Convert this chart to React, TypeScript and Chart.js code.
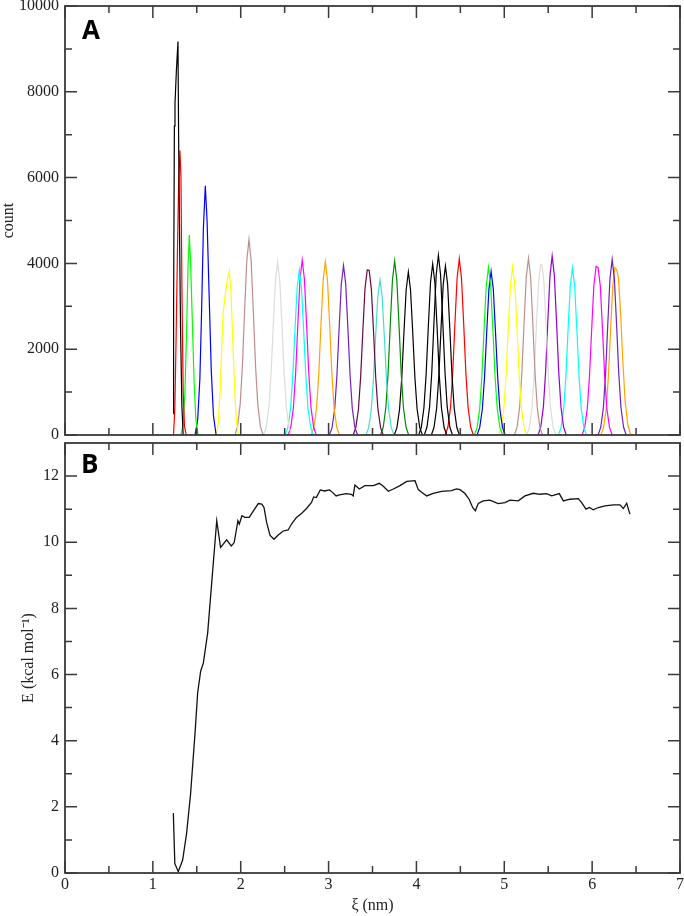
import React, { useEffect, useRef } from 'react';
import { Chart, registerables } from 'chart.js';
Chart.register(...registerables);

// ---------- Panel A: umbrella-window histograms (xi nm, count) ----------
const hist01 = [[1.232, 500], [1.236, 3000], [1.245, 7200], [1.252, 7740], [1.268, 8500], [1.286, 9170], [1.293, 7000], [1.30, 5480], [1.315, 2500], [1.33, 700], [1.345, 0]];
const hist02 = [[1.235, 0], [1.25, 600], [1.265, 2300], [1.28, 4300], [1.295, 6000], [1.308, 6630], [1.32, 6000], [1.332, 3200], [1.345, 1000], [1.36, 200], [1.38, 0]];
const hist03 = [[1.32, 0], [1.345, 250], [1.365, 1000], [1.385, 2500], [1.40, 3900], [1.415, 4660], [1.43, 4000], [1.45, 2600], [1.47, 1200], [1.49, 350], [1.515, 0]];
const hist04 = [[1.48, 0], [1.51, 350], [1.535, 1300], [1.555, 2900], [1.575, 4800], [1.597, 5810], [1.617, 5000], [1.64, 3300], [1.665, 1500], [1.69, 450], [1.72, 0]];
const hist05 = [[1.72, 0], [1.745, 300], [1.765, 1000], [1.785, 2100], [1.80, 2840], [1.82, 3200], [1.845, 3600], [1.87, 3830], [1.89, 3300], [1.91, 2200], [1.93, 1100], [1.95, 350], [1.975, 0]];
const hist06 = [[1.934, 0], [1.964, 200], [1.994, 720], [2.019, 1600], [2.044, 2870], [2.069, 4060], [2.094, 4560], [2.119, 4060], [2.144, 2870], [2.169, 1600], [2.194, 720], [2.224, 200], [2.254, 0]];
const hist07 = [[2.26, 0], [2.29, 180], [2.32, 630], [2.345, 1410], [2.37, 2540], [2.395, 3580], [2.42, 4025], [2.445, 3580], [2.47, 2540], [2.495, 1410], [2.52, 630], [2.55, 180], [2.58, 0]];
const hist08 = [[2.507, 0], [2.537, 170], [2.567, 600], [2.592, 1350], [2.617, 2420], [2.642, 3420], [2.667, 3846], [2.692, 3420], [2.717, 2420], [2.742, 1350], [2.767, 600], [2.797, 170], [2.827, 0]];
const hist09 = [[2.54, 0], [2.57, 180], [2.60, 640], [2.625, 1430], [2.65, 2570], [2.675, 3630], [2.70, 4080], [2.725, 3630], [2.75, 2570], [2.775, 1430], [2.80, 640], [2.83, 180], [2.86, 0]];
const hist10 = [[2.803, 0], [2.833, 180], [2.863, 630], [2.888, 1410], [2.913, 2550], [2.938, 3600], [2.963, 4040], [2.988, 3600], [3.013, 2550], [3.038, 1410], [3.063, 630], [3.093, 180], [3.123, 0]];
const hist11 = [[3.01, 0], [3.04, 170], [3.07, 620], [3.095, 1380], [3.12, 2490], [3.145, 3520], [3.17, 3950], [3.195, 3520], [3.22, 2490], [3.245, 1380], [3.27, 620], [3.30, 170], [3.33, 0]];
const hist12 = [[3.28, 0], [3.31, 170], [3.34, 600], [3.365, 1350], [3.39, 2420], [3.415, 3420], [3.44, 3846], [3.462, 3840], [3.487, 3400], [3.512, 2400], [3.537, 1330], [3.562, 600], [3.592, 170], [3.622, 0]];
const hist13 = [[3.425, 0], [3.455, 160], [3.485, 570], [3.51, 1270], [3.535, 2280], [3.56, 3220], [3.585, 3613], [3.61, 3220], [3.635, 2280], [3.66, 1270], [3.685, 570], [3.715, 160], [3.745, 0]];
const hist14 = [[3.592, 0], [3.622, 180], [3.652, 640], [3.677, 1420], [3.702, 2560], [3.727, 3610], [3.752, 4056], [3.777, 3610], [3.802, 2560], [3.827, 1420], [3.852, 640], [3.882, 180], [3.912, 0]];
const hist15 = [[3.748, 0], [3.778, 170], [3.808, 600], [3.833, 1330], [3.858, 2390], [3.883, 3380], [3.908, 3800], [3.933, 3380], [3.958, 2390], [3.983, 1330], [4.008, 600], [4.038, 170], [4.068, 0]];
const hist16 = [[4.025, 0], [4.055, 175], [4.085, 630], [4.11, 1400], [4.135, 2510], [4.16, 3550], [4.185, 3986], [4.21, 3550], [4.235, 2510], [4.26, 1400], [4.285, 630], [4.315, 175], [4.345, 0]];
const hist17 = [[4.09, 0], [4.12, 185], [4.15, 660], [4.175, 1470], [4.20, 2640], [4.225, 3730], [4.25, 4190], [4.275, 3730], [4.30, 2640], [4.325, 1470], [4.35, 660], [4.38, 185], [4.41, 0]];
const hist18 = [[4.17, 0], [4.20, 175], [4.23, 620], [4.255, 1380], [4.28, 2480], [4.305, 3510], [4.33, 3940], [4.355, 3510], [4.38, 2480], [4.405, 1380], [4.43, 620], [4.46, 175], [4.49, 0]];
const hist19 = [[4.328, 0], [4.358, 180], [4.388, 645], [4.413, 1440], [4.438, 2590], [4.463, 3660], [4.488, 4110], [4.513, 3660], [4.538, 2590], [4.563, 1440], [4.588, 645], [4.618, 180], [4.648, 0]];
const hist20 = [[4.66, 0], [4.69, 170], [4.72, 610], [4.745, 1370], [4.77, 2460], [4.795, 3480], [4.82, 3908], [4.845, 3480], [4.87, 2460], [4.895, 1370], [4.92, 610], [4.95, 170], [4.98, 0]];
const hist21 = [[4.69, 0], [4.72, 170], [4.75, 600], [4.775, 1340], [4.80, 2400], [4.825, 3400], [4.85, 3815], [4.875, 3400], [4.90, 2400], [4.925, 1340], [4.95, 600], [4.98, 170], [5.01, 0]];
const hist22 = [[4.935, 0], [4.965, 170], [4.995, 620], [5.02, 1370], [5.045, 2470], [5.07, 3490], [5.095, 3923], [5.12, 3490], [5.145, 2470], [5.17, 1370], [5.195, 620], [5.225, 170], [5.255, 0]];
const hist23 = [[5.115, 0], [5.145, 180], [5.175, 650], [5.20, 1440], [5.225, 2600], [5.25, 3670], [5.275, 4120], [5.30, 3670], [5.325, 2600], [5.35, 1440], [5.375, 650], [5.405, 180], [5.435, 0]];
const hist24 = [[5.255, 0], [5.285, 175], [5.315, 620], [5.34, 1390], [5.365, 2510], [5.39, 3540], [5.412, 3977], [5.43, 3960], [5.452, 3540], [5.477, 2510], [5.502, 1390], [5.527, 620], [5.557, 175], [5.587, 0]];
const hist25 = [[5.385, 0], [5.415, 185], [5.445, 655], [5.47, 1460], [5.495, 2630], [5.52, 3710], [5.545, 4172], [5.57, 3710], [5.595, 2630], [5.62, 1460], [5.645, 655], [5.675, 185], [5.705, 0]];
const hist26 = [[5.616, 0], [5.646, 170], [5.676, 610], [5.701, 1360], [5.726, 2460], [5.751, 3470], [5.776, 3897], [5.801, 3470], [5.826, 2460], [5.851, 1360], [5.876, 610], [5.906, 170], [5.936, 0]];
const hist27 = [[5.885, 0], [5.915, 175], [5.945, 615], [5.97, 1375], [5.995, 2475], [6.02, 3500], [6.045, 3930], [6.068, 3900], [6.093, 3470], [6.118, 2460], [6.143, 1360], [6.168, 610], [6.198, 170], [6.228, 0]];
const hist28 = [[6.068, 0], [6.098, 180], [6.128, 640], [6.153, 1430], [6.178, 2580], [6.203, 3645], [6.228, 4095], [6.253, 3645], [6.278, 2580], [6.303, 1430], [6.328, 640], [6.358, 180], [6.388, 0]];
const hist29 = [[6.10, 0], [6.13, 170], [6.16, 610], [6.185, 1360], [6.21, 2450], [6.235, 3470], [6.258, 3900], [6.28, 3850], [6.30, 3650], [6.325, 2800], [6.35, 1700], [6.375, 800], [6.405, 250], [6.44, 0]];

const histSeries = [hist01, hist02, hist03, hist04, hist05, hist06, hist07, hist08, hist09, hist10, hist11, hist12, hist13, hist14, hist15, hist16, hist17, hist18, hist19, hist20, hist21, hist22, hist23, hist24, hist25, hist26, hist27, hist28, hist29];
const histColors = ['#000000', '#ff0000', '#00ff00', '#0000ff', '#ffff00', '#bc8f8f', '#dcdcdc', '#00ffff', '#ff00ff', '#ffa500', '#7221bc', '#670748', '#40e0d0', '#008b00', '#000000', '#000000', '#000000', '#000000', '#ff0000', '#00ff00', '#0000ff', '#ffff00', '#bc8f8f', '#dcdcdc', '#9400d3', '#00ffff', '#ff00ff', '#7221bc', '#ffa500'];

// ---------- Panel B: PMF ----------
const pmfXi = [1.233, 1.25, 1.289, 1.339, 1.384, 1.43, 1.48, 1.51, 1.544, 1.575, 1.624, 1.67, 1.727, 1.771, 1.84, 1.893, 1.926, 1.968, 1.984, 2.014, 2.048, 2.097, 2.15, 2.2, 2.24, 2.265, 2.295, 2.333, 2.378, 2.427, 2.484, 2.54, 2.578, 2.635, 2.692, 2.749, 2.806, 2.83, 2.86, 2.906, 2.955, 3.01, 3.048, 3.086, 3.124, 3.2, 3.26, 3.28, 3.3, 3.35, 3.414, 3.51, 3.578, 3.623, 3.68, 3.737, 3.813, 3.889, 3.984, 4.021, 4.06, 4.117, 4.19, 4.287, 4.4, 4.457, 4.496, 4.55, 4.6, 4.64, 4.67, 4.704, 4.76, 4.836, 4.93, 5.008, 5.064, 5.16, 5.235, 5.33, 5.406, 5.481, 5.539, 5.626, 5.672, 5.748, 5.843, 5.88, 5.93, 5.968, 6.013, 6.07, 6.146, 6.241, 6.317, 6.355, 6.393, 6.43];
const pmfE = [1.81, 0.29, 0.04, 0.39, 1.2, 2.41, 4.23, 5.45, 6.1, 6.35, 7.26, 8.78, 10.65, 9.84, 10.07, 9.89, 9.99, 10.65, 10.55, 10.8, 10.75, 10.75, 10.97, 11.17, 11.15, 11.05, 10.6, 10.21, 10.09, 10.22, 10.34, 10.37, 10.55, 10.75, 10.87, 11.02, 11.2, 11.37, 11.35, 11.58, 11.55, 11.58, 11.5, 11.4, 11.43, 11.47, 11.45, 11.4, 11.73, 11.61, 11.71, 11.71, 11.78, 11.69, 11.54, 11.61, 11.71, 11.84, 11.86, 11.59, 11.51, 11.4, 11.48, 11.54, 11.56, 11.61, 11.59, 11.48, 11.3, 11.05, 10.95, 11.17, 11.25, 11.27, 11.17, 11.2, 11.27, 11.25, 11.4, 11.48, 11.45, 11.47, 11.4, 11.47, 11.25, 11.3, 11.32, 11.2, 11.0, 11.05, 10.98, 11.05, 11.1, 11.13, 11.13, 11.02, 11.18, 10.85];

// ---------- ticks ----------
const xMajorTicks = [0, 1, 2, 3, 4, 5, 6, 7];
const xMinorTicks = [0.5, 1.5, 2.5, 3.5, 4.5, 5.5, 6.5];
const countMajorTicks = [0, 2000, 4000, 6000, 8000, 10000];
const countMinorTicks = [1000, 3000, 5000, 7000, 9000];
const energyMajorTicks = [0, 2, 4, 6, 8, 10, 12];
const energyMinorTicks = [1, 3, 5, 7, 9, 11];

const SERIF = '"Liberation Serif", "Times New Roman", serif';
const FRAME = '#3a3a3a';

function framePlugin(yMajor: number[], yMinor: number[], letter: string, lx: number, ly: number) {
  return {
    id: 'frame' + letter,
    afterDraw(chart: any) {
      const { ctx, chartArea: a, scales } = chart;
      const xs = scales.x, ys = scales.y;
      ctx.save();
      ctx.strokeStyle = FRAME;
      ctx.lineWidth = 1.5;
      ctx.beginPath();
      const tick = (vals: number[], len: number) => {
        vals.forEach((v) => {
          const px = xs.getPixelForValue(v);
          ctx.moveTo(px, a.bottom); ctx.lineTo(px, a.bottom - len);
          ctx.moveTo(px, a.top); ctx.lineTo(px, a.top + len);
        });
      };
      const ytick = (vals: number[], len: number) => {
        vals.forEach((v) => {
          const py = ys.getPixelForValue(v);
          ctx.moveTo(a.left, py); ctx.lineTo(a.left + len, py);
          ctx.moveTo(a.right, py); ctx.lineTo(a.right - len, py);
        });
      };
      tick(xMajorTicks, 12); tick(xMinorTicks, 7);
      ytick(yMajor, 12); ytick(yMinor, 7);
      ctx.stroke();
      ctx.lineWidth = 1.8;
      ctx.strokeRect(a.left, a.top, a.right - a.left, a.bottom - a.top);
      ctx.fillStyle = '#000';
      ctx.font = 'bold 26px "Open Sans", "DejaVu Sans", sans-serif';
      ctx.textBaseline = 'alphabetic';
      ctx.textAlign = 'left';
      ctx.fillText(letter, lx, ly);
      ctx.restore();
    },
  };
}

const tickFont = { family: SERIF, size: 16 };
const plainLabel = (v: any) => String(v);

export default function App() {
  const refA = useRef<HTMLCanvasElement>(null);
  const refB = useRef<HTMLCanvasElement>(null);

  useEffect(() => {
    const chartA = new Chart(refA.current as HTMLCanvasElement, {
      type: 'line',
      data: {
        datasets: histSeries.map((s, i) => ({
          data: s.map((p) => ({ x: p[0], y: p[1] })),
          borderColor: histColors[i],
          borderWidth: 1.2,
          pointRadius: 0,
          fill: false,
          tension: 0,
        })),
      },
      options: {
        animation: false,
        responsive: true,
        maintainAspectRatio: false,
        layout: { padding: { top: 6, right: 4, bottom: 5, left: 0 } },
        plugins: { legend: { display: false }, tooltip: { enabled: false } },
        scales: {
          x: { type: 'linear', min: 0, max: 7, display: false },
          y: {
            type: 'linear', min: 0, max: 10000,
            afterBuildTicks: (s: any) => { s.ticks = countMajorTicks.map((v) => ({ value: v })); },
            afterFit: (s: any) => { s.width = 65; s.paddingTop = 0; s.paddingBottom = 0; },
            grid: { display: false, drawTicks: false },
            border: { display: false },
            ticks: { font: tickFont, color: '#222', padding: 6, autoSkip: false, callback: plainLabel },
            title: { display: true, text: 'count', font: { family: SERIF, size: 16, lineHeight: 1 }, color: '#222', padding: { top: 1, bottom: 0 } },
          },
        },
      },
      plugins: [framePlugin(countMajorTicks, countMinorTicks, 'A', 82, 39)],
    } as any);

    const chartB = new Chart(refB.current as HTMLCanvasElement, {
      type: 'line',
      data: {
        datasets: [{
          data: pmfXi.map((x, i) => ({ x, y: pmfE[i] })),
          borderColor: '#111',
          borderWidth: 1.3,
          pointRadius: 0,
          fill: false,
          tension: 0,
        }],
      },
      options: {
        animation: false,
        responsive: true,
        maintainAspectRatio: false,
        layout: { padding: { top: 3, right: 4, bottom: 0, left: 0 } },
        plugins: { legend: { display: false }, tooltip: { enabled: false } },
        scales: {
          x: {
            type: 'linear', min: 0, max: 7,
            afterBuildTicks: (s: any) => { s.ticks = xMajorTicks.map((v) => ({ value: v })); },
            afterFit: (s: any) => { s.height = 43; s.paddingLeft = 0; s.paddingRight = 0; },
            grid: { display: false, drawTicks: false },
            border: { display: false },
            ticks: { font: tickFont, color: '#222', padding: 2, autoSkip: false, maxRotation: 0, callback: plainLabel },
            title: { display: true, text: 'ξ (nm)', font: { family: SERIF, size: 16 }, color: '#222', padding: { top: 0, bottom: 1 } },
          },
          y: {
            type: 'linear', min: 0, max: 13,
            afterBuildTicks: (s: any) => { s.ticks = energyMajorTicks.map((v) => ({ value: v })); },
            afterFit: (s: any) => { s.width = 65; s.paddingTop = 0; s.paddingBottom = 0; },
            grid: { display: false, drawTicks: false },
            border: { display: false },
            ticks: { font: tickFont, color: '#222', padding: 6, autoSkip: false, callback: plainLabel },
            title: { display: true, text: 'E (kcal mol⁻¹)', font: { family: SERIF, size: 16 }, color: '#222', padding: { top: 19, bottom: 0 } },
          },
        },
      },
      plugins: [framePlugin(energyMajorTicks, energyMinorTicks, 'B', 81, 33)],
    } as any);

    return () => { chartA.destroy(); chartB.destroy(); };
  }, []);

  return (
    <div style={{ position: 'absolute', left: 0, top: 0, width: 684, height: 916, background: '#fff' }}>
      <div style={{ position: 'absolute', left: 0, top: 0, width: 684, height: 440 }}>
        <canvas ref={refA} />
      </div>
      <div style={{ position: 'absolute', left: 0, top: 440, width: 684, height: 476 }}>
        <canvas ref={refB} />
      </div>
    </div>
  );
}
